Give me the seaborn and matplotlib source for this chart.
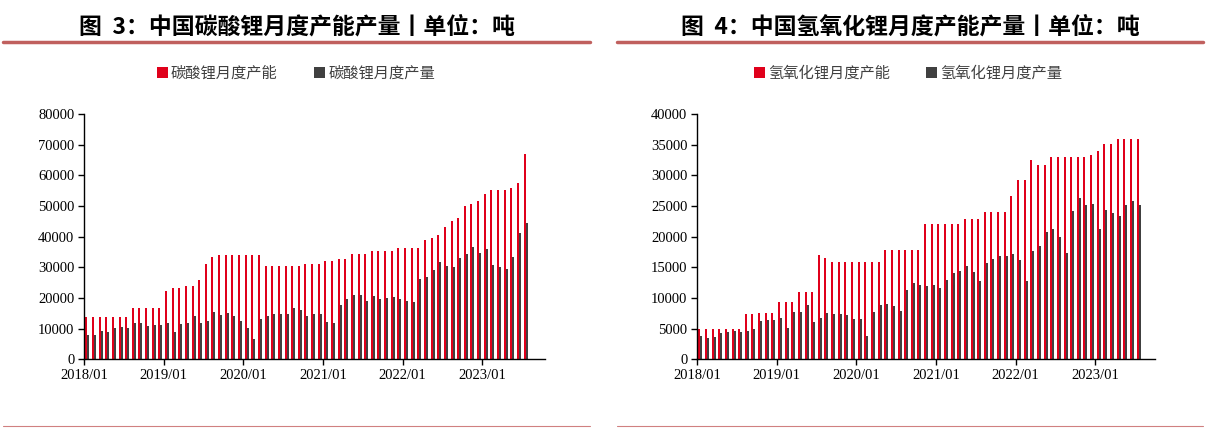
import numpy as np
import pandas as pd
import matplotlib
matplotlib.use("Agg")
import matplotlib.pyplot as plt
from matplotlib.patches import Patch
from matplotlib.lines import Line2D
import seaborn as sns

# ---------------- data ----------------
months = [d.strftime("%Y/%m") for d in pd.date_range("2018-01-01", "2023-07-01", freq="MS")]

li2co3_capacity = [13800]*7 + [16700]*5 + [22300, 23300, 23300, 23900, 23900, 25700, 31100, 33400] \
    + [33900]*7 + [30300]*6 + [31100]*3 + [32000]*2 + [32800]*2 + [34300]*3 + [35200]*4 + [36200]*4 \
    + [38900, 39500, 40400, 43300, 45100, 46100, 50100, 50700, 51500, 53800] + [55300]*3 + [56000, 57500, 67000]

li2co3_output = [7900, 7800, 9100, 8900, 10100, 10400, 10100, 11800, 11800, 10900, 11300, 11300,
                 11800, 8800, 11500, 11800, 14100, 12000, 12500, 15400, 14500, 15000, 14000, 12600,
                 10200, 6500, 13300, 14000, 14800, 14800, 14900, 16600, 16000, 14100, 14900, 14800,
                 12300, 12000, 17600, 19600, 21000, 21000, 19000, 20500, 19600, 19900, 20400, 19600,
                 19000, 18600, 26200, 26800, 29200, 31700, 30300, 30000, 32900, 34200, 36600, 34800,
                 36000, 30900, 30100, 29300, 33300, 41100, 44500]

lioh_capacity = [4900]*7 + [7400]*2 + [7600]*3 + [9300]*3 + [11000]*3 + [17000, 16600] + [15800]*8 \
    + [17900]*6 + [22000]*6 + [22800]*3 + [24100]*4 + [26700] + [29200]*2 + [32500] + [31700]*2 \
    + [33000]*6 + [33300, 33900] + [35100]*2 + [35900] + [36000]*3

lioh_output = [3800, 3400, 3600, 4350, 4400, 4650, 4450, 4600, 4900, 6250, 6350, 6400,
               6750, 5100, 7650, 7750, 8850, 6150, 6700, 7550, 7350, 7400, 7250, 6650,
               6500, 3800, 7650, 8800, 9000, 8650, 7950, 11300, 12450, 12100, 11950, 12050,
               11550, 12900, 14150, 14400, 15150, 14300, 12750, 15700, 16400, 16900, 16900, 17150,
               16200, 12750, 17650, 18550, 20700, 21300, 19900, 17300, 24200, 26300, 25200, 25250,
               21200, 24350, 23850, 23350, 25150, 25850, 25200]

xtick_labels = ["2018/01", "2019/01", "2020/01", "2021/01", "2022/01", "2023/01"]

panels = [
    dict(title="图  3：中国碳酸锂月度产能产量丨单位：吨",
         names=["碳酸锂月度产能", "碳酸锂月度产量"],
         cap=li2co3_capacity, out=li2co3_output,
         ymax=80000, ystep=10000),
    dict(title="图  4：中国氢氧化锂月度产能产量丨单位：吨",
         names=["氢氧化锂月度产能", "氢氧化锂月度产量"],
         cap=lioh_capacity, out=lioh_output,
         ymax=40000, ystep=5000),
]

RED = "#E0001B"
GRAY = "#404040"

sns.set_theme(style="white")
plt.rcParams["font.family"] = ["Noto Sans CJK SC", "DejaVu Sans"]

W, H = 1209, 429
fig = plt.figure(figsize=(W / 100, H / 100), dpi=100)

axes_px = [(84, 545), (697, 1155)]
title_cx = [297, 910]
legend_cx = [296, 908]
line_x = [(3, 590), (617, 1203)]
y0_px, ytop_px = 359.3, 114

for p, (xl, xr), tcx, lcx, (lx0, lx1) in zip(panels, axes_px, title_cx, legend_cx, line_x):
    ax = fig.add_axes([xl / W, (H - y0_px) / H, (xr - xl) / W, (y0_px - ytop_px) / H])
    df = pd.DataFrame({
        "month": months * 2,
        "value": list(p["cap"]) + list(p["out"]),
        "series": [p["names"][0]] * len(months) + [p["names"][1]] * len(months),
    })
    sns.barplot(data=df, x="month", y="value", hue="series", order=months,
                hue_order=p["names"], palette=[RED, GRAY], width=0.6, gap=0,
                linewidth=0, saturation=1, ax=ax, legend=False)
    ax.set_xlabel("")
    ax.set_ylabel("")
    ax.set_ylim(0, p["ymax"])
    ax.set_yticks(np.arange(0, p["ymax"] + 1, p["ystep"]))
    ax.set_yticklabels([str(int(v)) for v in np.arange(0, p["ymax"] + 1, p["ystep"])],
                       family="Liberation Serif", fontsize=10.5, color="black")
    nslots = (xr - xl) / 6.64
    ax.set_xlim(-0.5, -0.5 + nslots)
    tick_pos = [months.index(lbl) - 0.5 for lbl in xtick_labels]
    ax.set_xticks(tick_pos)
    ax.set_xticklabels(xtick_labels, family="Liberation Serif", fontsize=10.5, color="black")
    for s in ["top", "right"]:
        ax.spines[s].set_visible(False)
    for s in ["left", "bottom"]:
        ax.spines[s].set_color("black")
        ax.spines[s].set_linewidth(1.0)
    ax.tick_params(axis="both", which="both", direction="out", length=4, width=1,
                   color="black", bottom=True, left=True, pad=3)
    ax.grid(False)
    ax.set_facecolor("white")

    # title
    fig.text(tcx / W, (H - 27) / H, p["title"], ha="center", va="center",
             fontsize=16.5, fontweight="bold", color="black")
    # legend
    handles = [Patch(facecolor=RED, edgecolor="none"), Patch(facecolor=GRAY, edgecolor="none")]
    fig.legend(handles, p["names"], loc="center", bbox_to_anchor=(lcx / W, (H - 73) / H),
               ncol=2, frameon=False, fontsize=11, handlelength=0.7, handleheight=0.7,
               handletextpad=0.2, columnspacing=2.4, labelcolor="#404040")
    # decorative lines
    fig.add_artist(Line2D([lx0 / W, lx1 / W], [(H - 42) / H] * 2, color="#C0605E", lw=2.5))
    fig.add_artist(Line2D([lx0 / W, lx1 / W], [(H - 426) / H] * 2, color="#D08080", lw=0.8))

fig.savefig("out.png", dpi=100, facecolor="white")
